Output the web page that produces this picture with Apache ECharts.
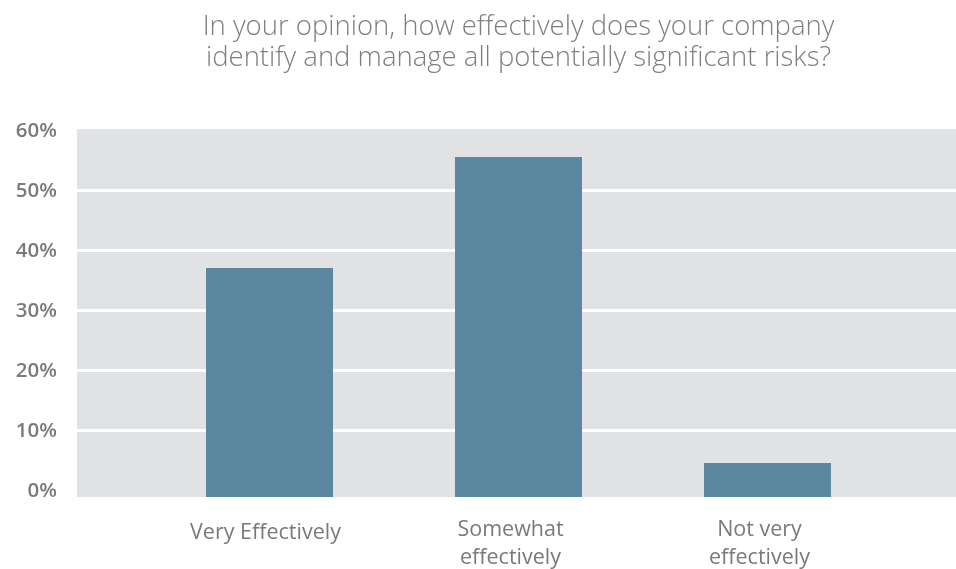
<!DOCTYPE html>
<html>
<head>
<meta charset="utf-8">
<script src="https://cdn.jsdelivr.net/npm/echarts@6/dist/echarts.min.js"></script>
<style>
  html, body { margin: 0; padding: 0; background: #ffffff; overflow: hidden; }
  #chart { width: 956px; height: 569px; }
</style>
</head>
<body>
<div id="chart"></div>
<script>
// Survey question and answers
const titleText = 'In your opinion, how effectively does your company\nidentify and manage all potentially significant risks?';
const categories = ['Very Effectively', 'Somewhat\neffectively', 'Not very\neffectively'];
const shares = [37.1, 55.6, 4.6];            // percent of respondents
const yTicks = [0, 10, 20, 30, 40, 50, 60];  // labelled percentages
const gridValues = [10, 20, 30, 40, 50];     // white guide lines
const yMin = -1.05;                          // plot floor sits just below 0%
const yMax = 60.28;

const barColor = '#5b87a0';
const labelColor = '#7a7a7a';
const barSpan = 0.51;                        // bar width as a share of category spacing

// per-category label styles (slight horizontal nudges, single-line label sits lower)
const catLabelStyle = (pad) => ({
  fontFamily: 'Open Sans',
  fontSize: 21.5,
  lineHeight: 28,
  color: labelColor,
  padding: pad
});

const chart = echarts.init(document.getElementById('chart'), null, { width: 956, height: 569 });

chart.setOption({
  animation: false,
  backgroundColor: '#ffffff',
  title: {
    text: titleText,
    left: 513.5,
    top: 7,
    textAlign: 'center',
    textStyle: {
      fontFamily: 'Open Sans',
      fontWeight: 300,
      fontSize: 27.5,
      lineHeight: 31,
      color: '#7f7f7f'
    }
  },
  grid: {
    left: 77,
    right: 0,
    top: 129,
    bottom: 72,
    outerBoundsMode: 'none',
    show: true,
    backgroundColor: '#e1e2e4',
    borderWidth: 0
  },
  xAxis: {
    type: 'value',
    min: -0.7731,
    max: 2.757,
    axisLine: { show: false },
    axisTick: { show: false },
    splitLine: { show: false },
    axisLabel: {
      customValues: categories.map((_, i) => i),
      formatter: (v) => {
        const i = Math.round(v);
        return categories[i].split('\n').map(line => '{c' + i + '|' + line + '}').join('\n');
      },
      margin: 19,
      fontFamily: 'Open Sans',
      fontSize: 21.5,
      lineHeight: 28,
      color: labelColor,
      rich: {
        c0: catLabelStyle([6, 8, 0, 0]),
        c1: catLabelStyle([0, 16, 0, 0]),
        c2: catLabelStyle([0, 16, 0, 0])
      }
    }
  },
  yAxis: {
    type: 'value',
    min: yMin,
    max: yMax,
    axisLine: { show: false },
    axisTick: { show: false, customValues: gridValues },
    splitLine: { show: true, lineStyle: { color: '#ffffff', width: 3 } },
    axisLabel: {
      customValues: yTicks,
      formatter: (v) => v + '%',
      margin: 20,
      fontFamily: 'Open Sans',
      fontWeight: 600,
      fontSize: 20.5,
      color: labelColor
    }
  },
  series: [
    {
      // each bar rises from the plot floor to its share
      type: 'custom',
      z: 3,
      data: shares.map((v, i) => [i, v]),
      encode: { x: 0, y: 1 },
      renderItem: (params, api) => {
        const x = api.value(0);
        const top = api.coord([x, api.value(1)]);
        const base = api.coord([x, yMin]);
        const w = api.size([barSpan, 0])[0];
        return {
          type: 'rect',
          shape: { x: top[0] - w / 2, y: top[1], width: w, height: base[1] - top[1] },
          style: { fill: barColor }
        };
      }
    }
  ]
});
</script>
</body>
</html>
